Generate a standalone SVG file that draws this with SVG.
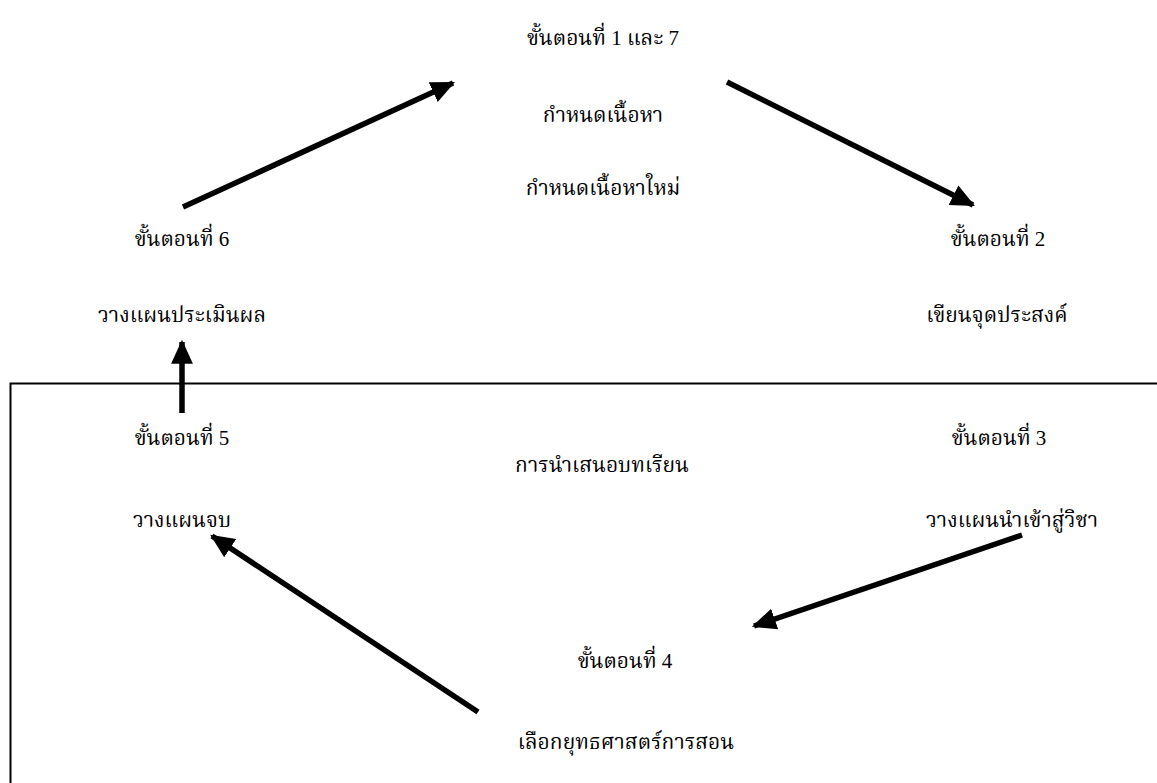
<svg xmlns="http://www.w3.org/2000/svg" width="1157" height="783" viewBox="0 0 1157 783">
<style>
text{font-family:"Liberation Serif","Noto Serif Thai","Noto Sans Thai",serif;font-size:21px;fill:#000;text-anchor:middle}
.ar{stroke:#000;stroke-width:5.5;fill:none;marker-end:url(#ah)}
</style>
<defs>
<marker id="ah" markerUnits="userSpaceOnUse" markerWidth="24" markerHeight="24" refX="20" refY="10" orient="auto" viewBox="0 0 22 20">
<path d="M0,0 L22,10 L0,20 Z" fill="#000"/>
</marker>
</defs>
<rect width="1157" height="783" fill="#fff"/>
<g id="frame"><path d="M1157,383.5 H10.5 V783" fill="none" stroke="#000" stroke-width="2"/></g>
<g id="connectors">
<line class="ar" x1="183" y1="207" x2="453" y2="83"/>
<line class="ar" x1="727" y1="82" x2="973" y2="205"/>
<line class="ar" x1="182" y1="413" x2="182" y2="342"/>
<line class="ar" x1="1022" y1="535" x2="754" y2="626"/>
<line class="ar" x1="478" y1="712" x2="212" y2="536"/>
</g>
<g id="n1"><text x="603" y="45">ขั้นตอนที่ 1 และ 7</text><text x="603" y="122">กำหนดเนื้อหา</text><text x="603" y="195">กำหนดเนื้อหาใหม่</text></g>
<g id="n2"><text x="998" y="246">ขั้นตอนที่ 2</text><text x="997" y="322">เขียนจุดประสงค์</text></g>
<g id="n6"><text x="182" y="246">ขั้นตอนที่ 6</text><text x="182" y="322">วางแผนประเมินผล</text></g>
<g id="n5"><text x="182" y="445">ขั้นตอนที่ 5</text><text x="182" y="527">วางแผนจบ</text></g>
<g id="n3"><text x="999" y="445">ขั้นตอนที่ 3</text><text x="1012" y="527">วางแผนนำเข้าสู่วิชา</text></g>
<g id="center"><text x="602" y="472">การนำเสนอบทเรียน</text></g>
<g id="n4"><text x="625" y="668">ขั้นตอนที่ 4</text><text x="626" y="749">เลือกยุทธศาสตร์การสอน</text></g>
</svg>
